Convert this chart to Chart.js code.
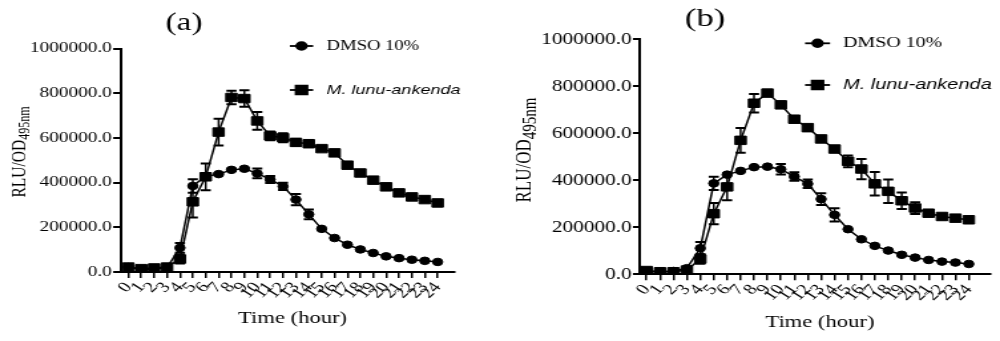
<!DOCTYPE html>
<html>
<head>
<meta charset="utf-8">
<script src="https://cdn.jsdelivr.net/npm/chart.js@4.4.0/dist/chart.umd.min.js"></script>
<style>
  html, body { margin: 0; padding: 0; background: #fff; overflow: hidden; }
  /* the source figure is stretched sideways, so each panel is drawn narrow and widened */
  .panel { position: absolute; top: 0; width: 376px; height: 341px; transform-origin: 0 0; transform: scaleX(1.3298); }
  #pa { left: 0; }
  #pb { left: 500px; }
</style>
</head>
<body>
<div class="panel" id="pa"><canvas id="chartA" width="376" height="341"></canvas></div>
<div class="panel" id="pb"><canvas id="chartB" width="376" height="341"></canvas></div>
<script>
const hours = [0, 1, 2, 3, 4, 5, 6, 7, 8, 9, 10, 11, 12, 13, 14, 15, 16, 17, 18, 19, 20, 21, 22, 23, 24];
const seriesNames = ['DMSO 10%', 'M. lunu-ankenda'];
const yTicks = [0, 200000, 400000, 600000, 800000, 1000000];

// panel (a)
const dmsoA = [22000, 10000, 15000, 20000, 108000, 385000, 428000, 438000, 457000, 462000, 441000, 414000, 383000, 324000, 258000, 193000, 152000, 122000, 101000, 85000, 70000, 62000, 55000, 50000, 45000];
const dmsoErrA = [0, 0, 0, 0, 22000, 30000, 15000, 5000, 5000, 5000, 22000, 16000, 16000, 25000, 22000, 0, 0, 0, 0, 0, 0, 0, 0, 0, 0];
const lunuA = [22000, 15000, 18000, 22000, 58000, 314000, 426000, 626000, 781000, 776000, 676000, 609000, 601000, 580000, 574000, 552000, 533000, 478000, 443000, 411000, 381000, 354000, 336000, 324000, 309000];
const lunuErrA = [0, 0, 0, 0, 20000, 70000, 60000, 60000, 30000, 37000, 40000, 20000, 20000, 15000, 15000, 0, 0, 0, 0, 0, 0, 0, 0, 0, 0];

// panel (b)
const dmsoB = [11000, 11000, 14000, 26000, 111000, 387000, 424000, 440000, 456000, 458000, 447000, 416000, 385000, 320000, 253000, 192000, 149000, 121000, 101000, 83000, 71000, 61000, 54000, 50000, 44000];
const dmsoErrB = [0, 0, 0, 0, 26000, 28000, 0, 0, 0, 0, 22000, 18000, 18000, 25000, 28000, 0, 0, 0, 0, 0, 0, 0, 0, 0, 0];
const lunuB = [16000, 11000, 11000, 18000, 65000, 258000, 372000, 570000, 728000, 771000, 721000, 660000, 624000, 576000, 533000, 481000, 448000, 385000, 353000, 313000, 282000, 260000, 246000, 239000, 232000];
const lunuErrB = [0, 0, 0, 0, 20000, 45000, 57000, 53000, 39000, 8000, 0, 0, 0, 0, 0, 25000, 43000, 50000, 50000, 35000, 25000, 12000, 0, 0, 0];

const SERIF = "'Liberation Serif', 'Times New Roman', serif";
const SANS = "'Liberation Sans', Arial, sans-serif";

function pts(values) {
  return hours.map((h, i) => ({ x: h, y: values[i] }));
}

// vertical error bars with caps, from each dataset's err array
const errorBars = {
  id: 'errorBars',
  beforeDatasetsDraw(chart) {
    const { ctx, scales: { x, y } } = chart;
    ctx.save();
    ctx.strokeStyle = '#000';
    chart.data.datasets.forEach(ds => {
      ds.err.forEach((e, i) => {
        if (!e) return;
        const px = x.getPixelForValue(ds.data[i].x);
        const top = y.getPixelForValue(ds.data[i].y + e);
        const bot = y.getPixelForValue(ds.data[i].y - e);
        ctx.lineWidth = 1.5;
        ctx.beginPath();
        ctx.moveTo(px, top); ctx.lineTo(px, bot);
        ctx.stroke();
        ctx.lineWidth = 2;
        ctx.beginPath();
        ctx.moveTo(px - 3.8, top); ctx.lineTo(px + 3.8, top);
        ctx.moveTo(px - 3.8, bot); ctx.lineTo(px + 3.8, bot);
        ctx.stroke();
      });
    });
    ctx.restore();
  }
};

// panel letter, axis titles (with subscript) and legend
const decor = {
  id: 'decor',
  afterDraw(chart, args, o) {
    const ctx = chart.ctx;
    ctx.save();
    ctx.fillStyle = '#000';
    ctx.strokeStyle = '#000';
    ctx.textBaseline = 'middle';
    ctx.textAlign = 'center';

    ctx.font = o.labelSize + 'px ' + SERIF;
    ctx.fillText(o.label, o.labelX, o.labelY);

    ctx.font = o.xTitleSize + 'px ' + SERIF;
    ctx.fillText('Time (hour)', o.xTitleX, o.xTitleY);

    // RLU/OD495nm, rotated
    ctx.translate(o.yTitleX, o.yTitleY);
    ctx.rotate(-Math.PI / 2);
    ctx.textAlign = 'left';
    ctx.textBaseline = 'alphabetic';
    const mainFont = o.yTitleSize + 'px ' + SERIF;
    const subFont = o.ySubSize + 'px ' + SERIF;
    ctx.font = mainFont;
    const wMain = ctx.measureText('RLU/OD').width;
    ctx.font = subFont;
    const wSub = ctx.measureText('495nm').width;
    const x0 = -(wMain + wSub) / 2;
    const base = o.yTitleSize * 0.33;
    ctx.font = mainFont;
    ctx.fillText('RLU/OD', x0, base);
    ctx.font = subFont;
    ctx.fillText('495nm', x0 + wMain, base + o.ySubSize * 0.3);
    ctx.setTransform(1, 0, 0, 1, 0, 0);

    // legend
    chart.data.datasets.forEach((ds, i) => {
      const ly = o.legendY[i];
      ctx.lineWidth = 1.8;
      ctx.beginPath();
      ctx.moveTo(o.legendX0, ly); ctx.lineTo(o.legendX1, ly);
      ctx.stroke();
      Chart.helpers.drawPoint(ctx, { pointStyle: ds.pointStyle, radius: ds.pointRadius, borderWidth: 1, rotation: 0 },
        (o.legendX0 + o.legendX1) / 2, ly);
      ctx.fill();
      ctx.font = o.legendFonts[i];
      ctx.textAlign = 'left';
      ctx.textBaseline = 'middle';
      ctx.fillText(ds.label, o.legendTextX, ly);
    });
    ctx.restore();
  }
};

function makeChart(id, dmso, dmsoErr, lunu, lunuErr, geo) {
  const H = 341, W = 376;
  const dataset = (label, values, err, style, r) => ({
    label, data: pts(values), err,
    borderColor: '#000', backgroundColor: '#000', borderWidth: 1.5,
    pointStyle: style, pointRadius: r, pointBackgroundColor: '#000', pointBorderColor: '#000',
    pointBorderWidth: 1, tension: 0, fill: false
  });
  return new Chart(document.getElementById(id), {
    type: 'line',
    data: {
      datasets: [
        dataset(seriesNames[0], dmso, dmsoErr, 'circle', 3.8),
        dataset(seriesNames[1], lunu, lunuErr, 'rect', 6)
      ]
    },
    options: {
      responsive: false,
      animation: false,
      devicePixelRatio: 1,
      layout: { padding: { left: 0, right: W - geo.right, top: geo.top, bottom: 0 } },
      plugins: {
        legend: { display: false },
        title: { display: false },
        tooltip: { enabled: false },
        decor: geo.decor
      },
      scales: {
        x: {
          type: 'linear',
          min: geo.xMin, max: geo.xMax,
          afterFit: s => { s.height = H - geo.bottom; },
          afterBuildTicks: s => { s.ticks = s.ticks.filter(t => t.value >= 0 && t.value <= 24); },
          border: { display: true, color: '#000', width: 2 },
          grid: { drawOnChartArea: false, drawTicks: true, tickLength: 6, color: '#000', lineWidth: 1.5 },
          ticks: {
            stepSize: 1, includeBounds: false, autoSkip: false,
            minRotation: 50, maxRotation: 50, padding: 1,
            color: '#000', font: { family: SERIF, size: 15 },
            callback: v => String(v)
          }
        },
        y: {
          min: 0, max: 1000000,
          afterFit: s => { s.width = geo.left; },
          afterBuildTicks: s => { s.ticks = yTicks.map(v => ({ value: v })); },
          border: { display: true, color: '#000', width: 2 },
          grid: { drawOnChartArea: false, drawTicks: true, tickLength: geo.yTickLen, color: '#000', lineWidth: 2 },
          ticks: {
            padding: 1, color: '#000', font: { family: SERIF, size: geo.yTickSize },
            callback: v => Number(v).toFixed(1)
          }
        }
      }
    },
    plugins: [errorBars, decor]
  });
}

makeChart('chartA', dmsoA, dmsoErrA, lunuA, lunuErrA, {
  left: 91.4, right: 342.2, top: 48.5, bottom: 272,
  xMin: -0.53, xMax: 25.35, yTickSize: 14.5, yTickLen: 6.3,
  decor: {
    label: '(a)', labelX: 138.4, labelY: 23, labelSize: 25,
    xTitleX: 220, xTitleY: 319, xTitleSize: 17,
    yTitleX: 13.5, yTitleY: 152, yTitleSize: 15.5, ySubSize: 12,
    legendX0: 218, legendX1: 235.5, legendTextX: 245.6, legendY: [46, 90],
    legendFonts: ['14px ' + SERIF, 'italic 13.5px ' + SANS]
  }
});

makeChart('chartB', dmsoB, dmsoErrB, lunuB, lunuErrB, {
  left: 105.3, right: 371.5, top: 39.3, bottom: 274.3,
  xMin: -0.49, xMax: 25.63, yTickSize: 16, yTickLen: 5.3,
  decor: {
    label: '(b)', labelX: 154.2, labelY: 19, labelSize: 26,
    xTitleX: 240.6, xTitleY: 323, xTitleSize: 17,
    yTitleX: 17.3, yTitleY: 150, yTitleSize: 17, ySubSize: 15,
    legendX0: 229.4, legendX1: 248.2, legendTextX: 258, legendY: [43.3, 85],
    legendFonts: ['15px ' + SERIF, 'italic 15px ' + SANS]
  }
});
</script>
</body>
</html>
